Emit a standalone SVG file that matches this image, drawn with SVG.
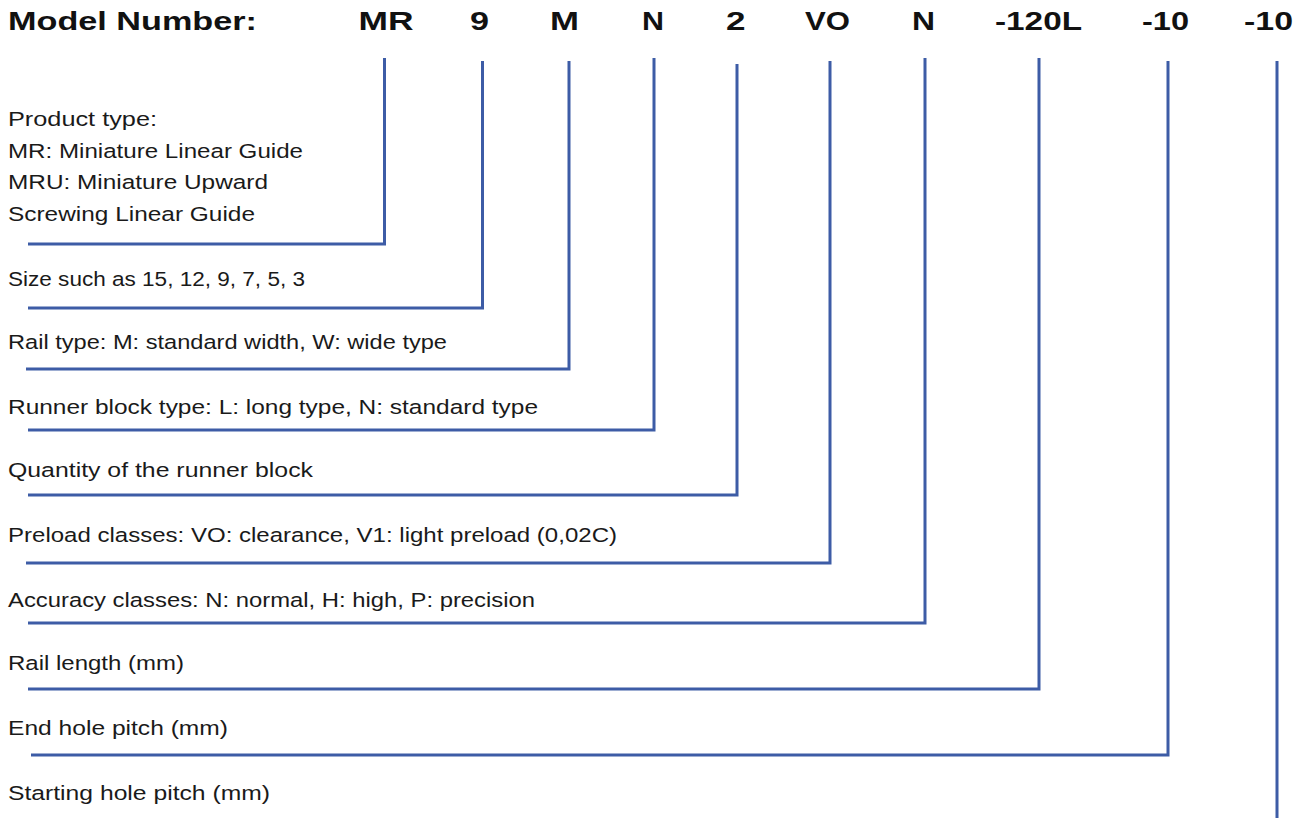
<svg xmlns="http://www.w3.org/2000/svg" width="1306" height="821" viewBox="0 0 1306 821">
<style>
.t{font-family:"Liberation Sans",Arial,sans-serif;font-size:26px;font-weight:bold;fill:#111}
.d{font-family:"Liberation Sans",Arial,sans-serif;font-size:20.5px;fill:#1a1a1a}
.c{fill:none;stroke:#3d5ca6;stroke-width:3;stroke-linejoin:miter}
</style>
<rect width="1306" height="821" fill="#fff"/>
<g id="title"><text class="t" x="8" y="30" textLength="249" lengthAdjust="spacingAndGlyphs">Model Number:</text></g>
<g id="codes">
<text class="t" x="358.5" y="30" textLength="55" lengthAdjust="spacingAndGlyphs">MR</text>
<text class="t" x="470" y="30" textLength="19" lengthAdjust="spacingAndGlyphs">9</text>
<text class="t" x="550" y="30" textLength="29" lengthAdjust="spacingAndGlyphs">M</text>
<text class="t" x="642" y="30" textLength="22" lengthAdjust="spacingAndGlyphs">N</text>
<text class="t" x="726" y="30" textLength="19.5" lengthAdjust="spacingAndGlyphs">2</text>
<text class="t" x="805" y="30" textLength="45" lengthAdjust="spacingAndGlyphs">VO</text>
<text class="t" x="912" y="30" textLength="23" lengthAdjust="spacingAndGlyphs">N</text>
<text class="t" x="995" y="30" textLength="87" lengthAdjust="spacingAndGlyphs">-120L</text>
<text class="t" x="1142" y="30" textLength="47" lengthAdjust="spacingAndGlyphs">-10</text>
<text class="t" x="1244" y="30" textLength="49" lengthAdjust="spacingAndGlyphs">-10</text>
</g>
<g id="connectors">
<path class="c" d="M28 244H384.5V58"/>
<path class="c" d="M28 308H482.5V61"/>
<path class="c" d="M26 369H569V61"/>
<path class="c" d="M28 430H654V58"/>
<path class="c" d="M28 495H737V64"/>
<path class="c" d="M26 563H830V61"/>
<path class="c" d="M28 623H925V58"/>
<path class="c" d="M28 689H1039V58"/>
<path class="c" d="M31 755H1168V61"/>
<path class="c" d="M1277 61V818"/>
</g>
<g id="node-product-type">
<text class="d" x="8" y="126" textLength="149" lengthAdjust="spacingAndGlyphs">Product type:</text>
<text class="d" x="8" y="157.5" textLength="295" lengthAdjust="spacingAndGlyphs">MR: Miniature Linear Guide</text>
<text class="d" x="8" y="189" textLength="260" lengthAdjust="spacingAndGlyphs">MRU: Miniature Upward</text>
<text class="d" x="8" y="221" textLength="247" lengthAdjust="spacingAndGlyphs">Screwing Linear Guide</text>
</g>
<g id="node-size"><text class="d" x="8" y="286" textLength="297" lengthAdjust="spacingAndGlyphs">Size such as 15, 12, 9, 7, 5, 3</text></g>
<g id="node-rail-type"><text class="d" x="8" y="349" textLength="439" lengthAdjust="spacingAndGlyphs">Rail type: M: standard width, W: wide type</text></g>
<g id="node-runner-block"><text class="d" x="8" y="414" textLength="530" lengthAdjust="spacingAndGlyphs">Runner block type: L: long type, N: standard type</text></g>
<g id="node-quantity"><text class="d" x="8" y="477" textLength="305" lengthAdjust="spacingAndGlyphs">Quantity of the runner block</text></g>
<g id="node-preload"><text class="d" x="8" y="542" textLength="609" lengthAdjust="spacingAndGlyphs">Preload classes: VO: clearance, V1: light preload (0,02C)</text></g>
<g id="node-accuracy"><text class="d" x="8" y="607" textLength="527" lengthAdjust="spacingAndGlyphs">Accuracy classes: N: normal, H: high, P: precision</text></g>
<g id="node-rail-length"><text class="d" x="8" y="670" textLength="176" lengthAdjust="spacingAndGlyphs">Rail length (mm)</text></g>
<g id="node-end-hole"><text class="d" x="8" y="735" textLength="220" lengthAdjust="spacingAndGlyphs">End hole pitch (mm)</text></g>
<g id="node-starting-hole"><text class="d" x="8" y="800" textLength="262" lengthAdjust="spacingAndGlyphs">Starting hole pitch (mm)</text></g>
</svg>
